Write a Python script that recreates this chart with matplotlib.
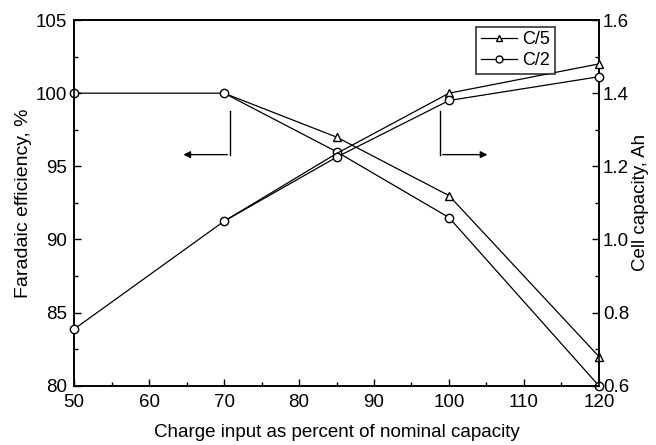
import matplotlib
matplotlib.use("Agg")
import matplotlib.pyplot as plt
from matplotlib.ticker import MultipleLocator

plt.rcParams['font.family'] = ['Liberation Sans', 'DejaVu Sans']

# efficiency (left axis)
eff_x_c2 = [50, 70, 85, 100, 120]
eff_c2 = [100.0, 100.0, 96.0, 91.5, 80.0]
eff_x_c5 = [70, 85, 100, 120]
eff_c5 = [100.0, 97.0, 93.0, 82.0]

# capacity (right axis)
cap_x_c2 = [50, 70, 85, 100, 120]
cap_c2 = [0.755, 1.05, 1.225, 1.38, 1.445]
cap_x_c5 = [70, 85, 100, 120]
cap_c5 = [1.05, 1.235, 1.40, 1.48]

fig = plt.figure(figsize=(6.56, 4.45), dpi=100)
ax = fig.add_axes([0.113, 0.133, 0.8, 0.822])
ax2 = ax.twinx()

lw = 0.9
ms = 6
ax.plot(eff_x_c5, eff_c5, '-', color='k', lw=lw, marker='^', mfc='white',
        mec='k', ms=ms, markevery=[1, 2, 3], clip_on=False, zorder=3)
ax.plot(eff_x_c2, eff_c2, '-', color='k', lw=lw, marker='o', mfc='white',
        mec='k', ms=ms, clip_on=False, zorder=4)
ax2.plot(cap_x_c5, cap_c5, '-', color='k', lw=lw, marker='^', mfc='white',
         mec='k', ms=ms, markevery=[2, 3], clip_on=False, zorder=3)
ax2.plot(cap_x_c2, cap_c2, '-', color='k', lw=lw, marker='o', mfc='white',
         mec='k', ms=ms, clip_on=False, zorder=4)

ax.set_xlim(50, 120)
ax.set_ylim(80, 105)
ax2.set_ylim(0.6, 1.6)

ax.xaxis.set_major_locator(MultipleLocator(10))
ax.xaxis.set_minor_locator(MultipleLocator(5))
ax.yaxis.set_major_locator(MultipleLocator(5))
ax.yaxis.set_minor_locator(MultipleLocator(2.5))
ax2.yaxis.set_major_locator(MultipleLocator(0.2))
ax2.yaxis.set_minor_locator(MultipleLocator(0.1))
ax2.yaxis.set_major_formatter(plt.FuncFormatter(lambda v, p: f"{v:.1f}"))

for a in (ax, ax2):
    a.tick_params(which='both', direction='in', labelsize=13.5, width=1)
    a.tick_params(which='major', length=5)
    a.tick_params(which='minor', length=3)
    for s in a.spines.values():
        s.set_linewidth(1.2)
ax.tick_params(which='both', top=False, right=False)
ax.tick_params(axis='y', pad=5)
ax.tick_params(axis='x', pad=6)
ax2.tick_params(which='both', top=False, left=False, pad=3)

ax.set_xlabel('Charge input as percent of nominal capacity', fontsize=13.5, labelpad=9)
ax.set_ylabel('Faradaic efficiency, %', fontsize=14, labelpad=3)
ax2.set_ylabel('Cell capacity, Ah', fontsize=13.5, labelpad=2)

# direction arrows
ax.plot([70.8, 70.8], [98.8, 95.8], color='k', lw=1)
ax.annotate('', xy=(64.2, 95.8), xytext=(70.8, 95.8),
            arrowprops=dict(arrowstyle='-|>', color='k', lw=1, mutation_scale=10))
ax.plot([98.8, 98.8], [98.8, 95.8], color='k', lw=1)
ax.annotate('', xy=(105.5, 95.8), xytext=(98.8, 95.8),
            arrowprops=dict(arrowstyle='-|>', color='k', lw=1, mutation_scale=10))

# legend
h1, = ax.plot([], [], '-', color='k', lw=lw, marker='^', mfc='white', mec='k', ms=5)
h2, = ax.plot([], [], '-', color='k', lw=lw, marker='o', mfc='white', mec='k', ms=5)
leg = ax2.legend([h1, h2], ['C/5', 'C/2'], loc='upper right',
                 bbox_to_anchor=(0.916, 0.981), borderaxespad=0, fontsize=13,
                 frameon=True, fancybox=False, edgecolor='k', handlelength=2.0,
                 borderpad=0.25, labelspacing=0.2, handletextpad=0.3)
leg.get_frame().set_linewidth(1.2)

fig.savefig('out.png', dpi=100)
